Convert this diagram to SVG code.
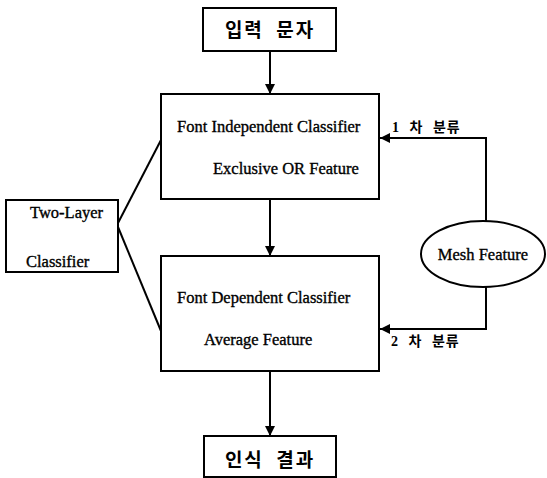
<svg xmlns="http://www.w3.org/2000/svg" width="547" height="478" viewBox="0 0 547 478">
<defs>
<marker id="ah" viewBox="0 0 10 10" refX="10" refY="5" markerWidth="10" markerHeight="10" markerUnits="userSpaceOnUse" orient="auto">
<path d="M0,0 L10,5 L0,10 Z" fill="#000"/>
</marker>
</defs>
<style>
.box{fill:#fff;stroke:#000;stroke-width:2}
.ln{fill:none;stroke:#000;stroke-width:2}
.en{font-family:"Liberation Serif","Times New Roman",serif;font-size:16.5px;fill:#000;stroke:#000;stroke-width:0.35}
.ko{font-family:"Noto Sans CJK KR",sans-serif;font-size:19px;font-weight:bold;fill:#000;letter-spacing:2px;word-spacing:6px}
.kos{font-family:"Liberation Serif","Noto Sans CJK KR",serif;font-size:14px;font-weight:bold;fill:#000;letter-spacing:1px;word-spacing:5px}
</style>
<rect width="547" height="478" fill="#fff"/>
<g id="connectors">
<line class="ln" x1="270" y1="51" x2="270" y2="94" marker-end="url(#ah)"/>
<line class="ln" x1="270" y1="199" x2="270" y2="256" marker-end="url(#ah)"/>
<line class="ln" x1="270" y1="371" x2="270" y2="436" marker-end="url(#ah)"/>
<polyline class="ln" points="486,222 486,138 380,138" marker-end="url(#ah)"/>
<polyline class="ln" points="486,287 486,329 380,329" marker-end="url(#ah)"/>
<line class="ln" x1="118" y1="223" x2="161" y2="140"/>
<line class="ln" x1="118" y1="227" x2="161" y2="331"/>
<text class="kos" x="392" y="132">1 차 분류</text>
<text class="kos" x="391" y="346">2 차 분류</text>
</g>
<g id="input">
<rect class="box" x="203" y="8" width="133" height="43"/>
<text class="ko" x="270" y="37" text-anchor="middle">입력 문자</text>
</g>
<g id="fic">
<rect class="box" x="161" y="94" width="218" height="105"/>
<text class="en" x="177" y="132">Font Independent Classifier</text>
<text class="en" x="213" y="174">Exclusive OR Feature</text>
</g>
<g id="fdc">
<rect class="box" x="161" y="256" width="218" height="115"/>
<text class="en" x="177" y="303">Font Dependent Classifier</text>
<text class="en" x="204" y="345">Average Feature</text>
</g>
<g id="twolayer">
<rect class="box" x="6" y="200" width="112" height="72"/>
<text class="en" x="30" y="218">Two-Layer</text>
<text class="en" x="26" y="267">Classifier</text>
</g>
<g id="mesh">
<ellipse class="box" cx="483" cy="254" rx="62" ry="33"/>
<text class="en" x="483" y="260" text-anchor="middle">Mesh Feature</text>
</g>
<g id="result">
<rect class="box" x="204" y="436" width="132" height="41"/>
<text class="ko" x="270" y="467" text-anchor="middle">인식 결과</text>
</g>
</svg>
